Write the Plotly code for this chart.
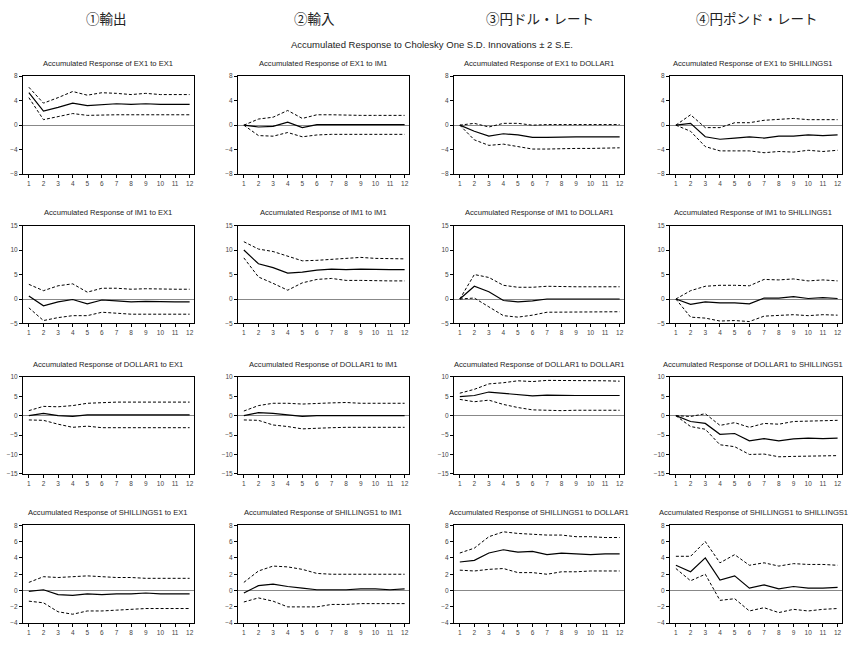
import plotly.graph_objects as go

W, H = 861, 645
periods = list(range(1, 13))

# ---- data: (mean, upper, lower) per panel ----
ex1_ex1_m = [5.3, 2.3, 2.9, 3.6, 3.2, 3.4, 3.5, 3.4, 3.5, 3.4, 3.4, 3.4]
ex1_ex1_u = [6.2, 3.6, 4.5, 5.5, 4.9, 5.3, 5.2, 5.0, 5.2, 5.0, 5.0, 5.0]
ex1_ex1_l = [4.5, 0.9, 1.4, 1.9, 1.6, 1.7, 1.7, 1.7, 1.7, 1.7, 1.7, 1.7]

ex1_im1_m = [0, -0.3, -0.2, 0.5, -0.4, 0.1, 0.1, 0.1, 0.1, 0.1, 0.1, 0.1]
ex1_im1_u = [0, 1.0, 1.3, 2.4, 1.1, 1.7, 1.7, 1.6, 1.6, 1.6, 1.6, 1.6]
ex1_im1_l = [0, -1.7, -1.8, -1.2, -1.9, -1.6, -1.5, -1.5, -1.5, -1.5, -1.5, -1.5]

ex1_dol_m = [0, -1.0, -1.8, -1.4, -1.6, -2.0, -2.0, -1.9, -1.9, -1.9, -1.9, -1.9]
ex1_dol_u = [0, 0.3, -0.3, 0.3, 0.3, 0.0, 0.1, 0.1, 0.1, 0.1, 0.1, 0.1]
ex1_dol_l = [0, -2.4, -3.3, -3.1, -3.5, -3.9, -3.9, -3.8, -3.8, -3.8, -3.7, -3.7]

ex1_shl_m = [0, 0.3, -1.9, -2.3, -2.1, -1.9, -2.1, -1.8, -1.8, -1.6, -1.7, -1.6]
ex1_shl_u = [0, 1.7, -0.4, -0.4, 0.4, 0.4, 0.8, 0.9, 1.1, 0.9, 0.9, 0.9]
ex1_shl_l = [0, -1.0, -3.5, -4.2, -4.2, -4.2, -4.5, -4.3, -4.4, -4.1, -4.3, -4.1]

im1_ex1_m = [0.6, -1.4, -0.6, -0.1, -1.0, -0.2, -0.4, -0.6, -0.5, -0.6, -0.6, -0.6]
im1_ex1_u = [3.0, 1.7, 2.7, 3.1, 1.4, 2.2, 2.2, 2.0, 2.1, 2.0, 2.0, 2.0]
im1_ex1_l = [-1.8, -4.4, -3.8, -3.4, -3.4, -2.7, -2.9, -3.1, -3.1, -3.1, -3.1, -3.1]

im1_im1_m = [10.0, 7.2, 6.4, 5.3, 5.5, 5.9, 6.1, 6.0, 6.1, 6.0, 6.0, 6.0]
im1_im1_u = [11.7, 10.2, 9.7, 8.8, 7.8, 7.9, 8.1, 8.2, 8.5, 8.3, 8.2, 8.2]
im1_im1_l = [8.4, 4.5, 3.2, 1.8, 3.3, 4.0, 4.2, 3.8, 3.8, 3.7, 3.7, 3.7]

im1_dol_m = [0, 2.6, 1.5, -0.3, -0.6, -0.4, 0, 0, 0, 0, 0, 0]
im1_dol_u = [0, 5.0, 4.4, 2.8, 2.4, 2.4, 2.6, 2.5, 2.5, 2.5, 2.5, 2.5]
im1_dol_l = [0, 0.2, -1.6, -3.4, -3.7, -3.3, -2.7, -2.7, -2.7, -2.6, -2.6, -2.6]

im1_shl_m = [0, -1.1, -0.6, -0.8, -0.8, -1.0, 0.2, 0.2, 0.5, 0.1, 0.3, 0.1]
im1_shl_u = [0, 1.7, 2.6, 2.8, 2.8, 2.7, 4.0, 3.9, 4.1, 3.7, 3.9, 3.7]
im1_shl_l = [0, -3.7, -3.9, -4.5, -4.4, -4.6, -3.5, -3.4, -3.2, -3.4, -3.2, -3.3]

dol_ex1_m = [0, 0.6, 0, -0.2, 0.2, 0.2, 0.2, 0.2, 0.2, 0.2, 0.2, 0.2]
dol_ex1_u = [1.3, 2.4, 2.3, 2.6, 3.2, 3.4, 3.5, 3.5, 3.5, 3.5, 3.5, 3.5]
dol_ex1_l = [-1.1, -1.2, -2.2, -3.0, -2.7, -3.1, -3.1, -3.1, -3.1, -3.1, -3.1, -3.1]

dol_im1_m = [0, 0.8, 0.6, 0.2, -0.2, 0, 0, 0, 0, 0, 0, 0]
dol_im1_u = [1.2, 2.6, 3.2, 3.2, 3.0, 3.2, 3.3, 3.4, 3.2, 3.2, 3.2, 3.2]
dol_im1_l = [-1.1, -1.2, -2.4, -2.8, -3.4, -3.2, -3.1, -3.0, -3.0, -3.0, -3.0, -3.0]

dol_dol_m = [4.9, 5.2, 6.1, 5.8, 5.5, 5.1, 5.3, 5.2, 5.2, 5.2, 5.2, 5.2]
dol_dol_u = [5.8, 6.8, 8.2, 8.5, 9.0, 8.8, 9.1, 9.1, 9.0, 9.0, 9.0, 8.9]
dol_dol_l = [4.2, 3.6, 4.0, 2.9, 2.1, 1.5, 1.4, 1.3, 1.4, 1.4, 1.4, 1.4]

dol_shl_m = [0, -1.5, -2.0, -4.8, -4.6, -6.5, -5.9, -6.5, -6.0, -5.8, -5.9, -5.8]
dol_shl_u = [0, -0.2, 0.5, -2.5, -1.8, -3.0, -2.0, -2.2, -1.5, -1.4, -1.2, -1.2]
dol_shl_l = [0, -2.8, -3.5, -7.5, -8.0, -10.0, -9.9, -10.6, -10.5, -10.4, -10.3, -10.3]

shl_ex1_m = [-0.1, 0.1, -0.5, -0.6, -0.4, -0.5, -0.4, -0.4, -0.3, -0.4, -0.4, -0.4]
shl_ex1_u = [1.0, 1.7, 1.6, 1.7, 1.8, 1.7, 1.6, 1.6, 1.5, 1.5, 1.5, 1.5]
shl_ex1_l = [-1.3, -1.5, -2.6, -2.9, -2.5, -2.5, -2.4, -2.3, -2.2, -2.2, -2.2, -2.2]

shl_im1_m = [-0.3, 0.6, 0.8, 0.5, 0.3, 0.1, 0.1, 0.1, 0.2, 0.2, 0.1, 0.2]
shl_im1_u = [1.0, 2.4, 3.0, 2.9, 2.6, 2.1, 2.0, 2.0, 2.0, 2.0, 2.0, 2.0]
shl_im1_l = [-1.4, -0.9, -1.3, -2.0, -2.0, -2.0, -1.7, -1.7, -1.6, -1.6, -1.6, -1.6]

shl_dol_m = [3.5, 3.7, 4.6, 5.0, 4.7, 4.8, 4.4, 4.6, 4.5, 4.4, 4.5, 4.5]
shl_dol_u = [4.6, 5.2, 6.6, 7.2, 7.0, 6.9, 6.8, 6.8, 6.6, 6.6, 6.5, 6.5]
shl_dol_l = [2.5, 2.4, 2.6, 2.7, 2.2, 2.2, 2.0, 2.3, 2.3, 2.4, 2.4, 2.4]

shl_shl_m = [3.1, 2.3, 4.0, 1.3, 1.8, 0.3, 0.7, 0.2, 0.5, 0.3, 0.3, 0.4]
shl_shl_u = [4.2, 4.2, 6.0, 3.4, 4.4, 3.1, 3.4, 3.0, 3.3, 3.2, 3.2, 3.1]
shl_shl_l = [2.7, 1.2, 2.0, -1.2, -1.0, -2.5, -2.1, -2.7, -2.3, -2.5, -2.3, -2.2]

responses = ["EX1", "IM1", "DOLLAR1", "SHILLINGS1"]
impulses = ["EX1", "IM1", "DOLLAR1", "SHILLINGS1"]
col_headers = ["①輸出", "②輸入", "③円ドル・レート", "④円ポンド・レート"]
main_title = "Accumulated Response to Cholesky One S.D. Innovations ± 2 S.E."

panels = [
    [(ex1_ex1_m, ex1_ex1_u, ex1_ex1_l), (ex1_im1_m, ex1_im1_u, ex1_im1_l),
     (ex1_dol_m, ex1_dol_u, ex1_dol_l), (ex1_shl_m, ex1_shl_u, ex1_shl_l)],
    [(im1_ex1_m, im1_ex1_u, im1_ex1_l), (im1_im1_m, im1_im1_u, im1_im1_l),
     (im1_dol_m, im1_dol_u, im1_dol_l), (im1_shl_m, im1_shl_u, im1_shl_l)],
    [(dol_ex1_m, dol_ex1_u, dol_ex1_l), (dol_im1_m, dol_im1_u, dol_im1_l),
     (dol_dol_m, dol_dol_u, dol_dol_l), (dol_shl_m, dol_shl_u, dol_shl_l)],
    [(shl_ex1_m, shl_ex1_u, shl_ex1_l), (shl_im1_m, shl_im1_u, shl_im1_l),
     (shl_dol_m, shl_dol_u, shl_dol_l), (shl_shl_m, shl_shl_u, shl_shl_l)],
]

row_ranges = [(-8, 8, 4), (-5, 15, 5), (-15, 10, 5), (-4, 8, 2)]

# ---- layout geometry (pixels) ----
col_px = [(23, 194), (238, 409), (454, 624), (670, 842)]
row_px = [(73, 172), (224, 323), (377, 475), (527, 626)]
title_cx = [108, 323, 539, 753]

def px_x(v):
    return v / W

def px_y(v):
    return 1 - v / H

fig = go.Figure()
layout = dict(
    width=W, height=H, margin=dict(l=0, r=0, t=0, b=0),
    paper_bgcolor="white", plot_bgcolor="white", showlegend=False,
    font=dict(family="Liberation Sans, Arial", color="#333"),
)
annotations = []

tickfont = dict(family="Liberation Sans, Arial", size=6.5, color="#444")

k = 0
for r in range(4):
    y0, y1, dt = row_ranges[r]
    for c in range(4):
        k += 1
        xa = "x" if k == 1 else f"x{k}"
        ya = "y" if k == 1 else f"y{k}"
        m, u, l = panels[r][c]
        for series, dash, wdt in ((u, "3px,2px", 1), (l, "3px,2px", 1), (m, "solid", 1.2)):
            fig.add_trace(go.Scatter(
                x=periods, y=series, mode="lines", xaxis=xa, yaxis=ya,
                line=dict(color="black", width=wdt, dash=dash),
                hoverinfo="skip"))
        xl, xr = col_px[c]
        yt, yb = row_px[r]
        layout["xaxis" if k == 1 else f"xaxis{k}"] = dict(
            domain=[px_x(xl), px_x(xr)], anchor=ya, range=[0.6, 12.3],
            tickvals=periods, ticks="outside", ticklen=3, tickcolor="black",
            showline=True, linecolor="black", linewidth=1, mirror=True,
            showgrid=False, zeroline=False, tickfont=tickfont, fixedrange=True)
        layout["yaxis" if k == 1 else f"yaxis{k}"] = dict(
            domain=[px_y(yb), px_y(yt)], anchor=xa, range=[y0, y1],
            tickvals=list(range(y0, y1 + 1, dt)), ticks="outside", ticklen=3,
            tickcolor="black", showline=True, linecolor="black", linewidth=1,
            mirror=True, showgrid=False, zeroline=True, zerolinecolor="#888",
            zerolinewidth=1, tickfont=tickfont, fixedrange=True)
        annotations.append(dict(
            text=f"Accumulated Response of {responses[r]} to {impulses[c]}",
            x=px_x(title_cx[c]), y=px_y(yt - 13), xref="paper", yref="paper",
            xanchor="center", yanchor="middle", showarrow=False,
            font=dict(family="Liberation Sans, Arial", size=7.6, color="#222")))

header_x = [106, 314, 540, 757]
for hx, txt in zip(header_x, col_headers):
    annotations.append(dict(
        text=txt, x=px_x(hx), y=px_y(14), xref="paper", yref="paper",
        xanchor="center", yanchor="middle", showarrow=False,
        font=dict(family="Noto Sans CJK JP", size=13.5, color="#222")))

annotations.append(dict(
    text=main_title, x=px_x(432), y=px_y(41), xref="paper", yref="paper",
    xanchor="center", yanchor="middle", showarrow=False,
    font=dict(family="Liberation Sans, Arial", size=9.5, color="#222")))

layout["annotations"] = annotations
fig.update_layout(**layout)
fig.write_html("out.html", config={"displayModeBar": False},
               post_script="document.body.style.margin='0';")
